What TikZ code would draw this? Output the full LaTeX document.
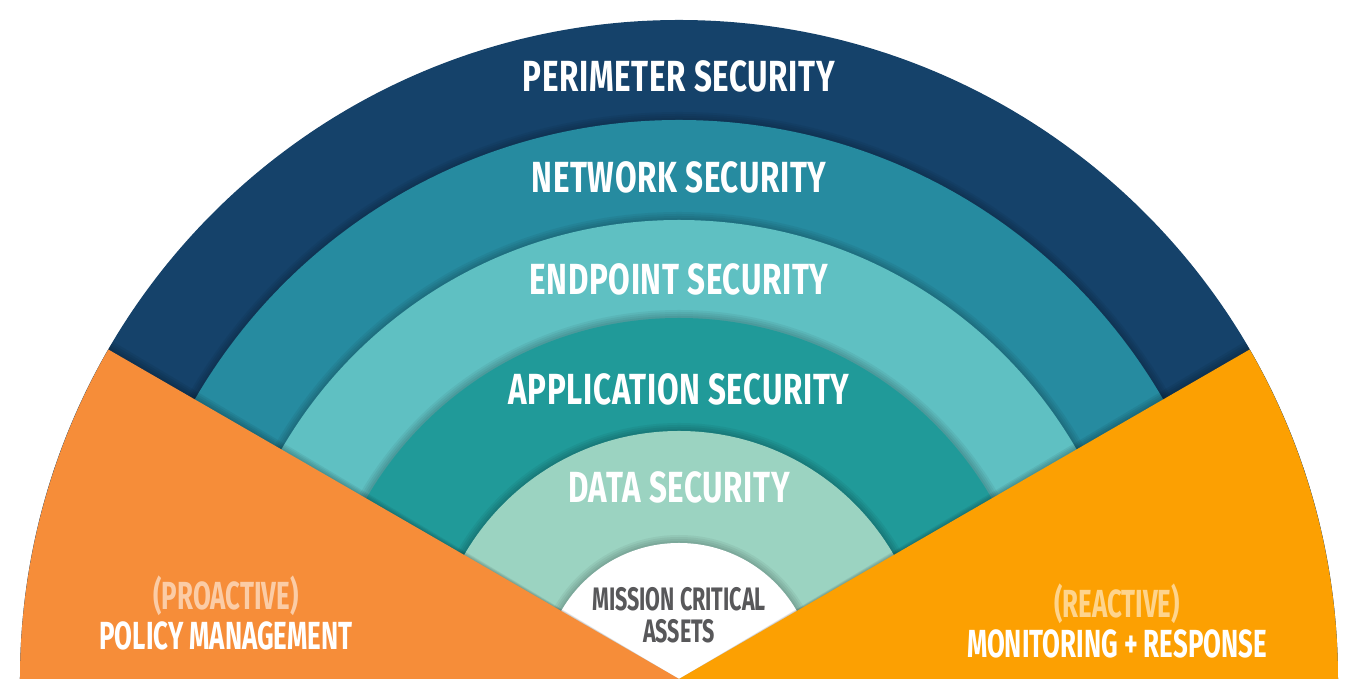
\documentclass[tikz,border=0pt]{standalone}
\usepackage{fontspec}
\newfontfamily\labelfont{Fira Sans}[FakeStretch=0.66]
\newfontfamily\ringfont{Fira Sans}[FakeStretch=0.72, LetterSpace=1.5]
\definecolor{perimeter}{RGB}{21,66,106}
\definecolor{network}{RGB}{38,139,160}
\definecolor{endpoint}{RGB}{95,192,194}
\definecolor{application}{RGB}{32,154,153}
\definecolor{data}{RGB}{155,211,193}
\definecolor{proactive}{RGB}{246,141,57}
\definecolor{reactive}{RGB}{252,160,2}
\definecolor{asset}{RGB}{88,88,90}
\colorlet{proactive-lighter}{proactive!45}
\colorlet{reactive-lighter}{reactive!45}

\begin{document}
\begin{tikzpicture}[ringlabel/.style={text=white, anchor=base, font=\ringfont\bfseries\fontsize{24.8}{26}\selectfont},
	sidelabel/.style={text=white, align=center, anchor=base, font=\labelfont\bfseries\fontsize{22.3}{22.8}\selectfont}]

    \useasboundingbox (-13.58,-0.08) rectangle (13.46,13.58);

    \fill[perimeter] (13.18,0) arc[start angle=0, end angle=180, radius=13.18] -- cycle;
    \node[ringlabel] (S1) at (0,11.74) {PERIMETER SECURITY};

				\foreach \n/\r/\c/\y/\t in {2/11.18/network/9.72/NETWORK SECURITY, 3/9.18/endpoint/7.68/ENDPOINT SECURITY, 4/7.22/application/5.48/APPLICATION SECURITY, 5/4.96/data/3.52/DATA SECURITY}{
					\foreach \s in {1,...,4}
					\fill[black, opacity=0.05] (\r+0.04*\s,0) arc[start angle=0, end angle=180, radius=\r+0.04*\s] -- cycle;
					\fill[\c] (\r,0) arc[start angle=0, end angle=180, radius=\r] -- cycle;
					\node[ringlabel] (S\n) at (0,\y) {\t};
			}

				\foreach \s in {1,...,4}
				\fill[black, opacity=0.05] (2.72+0.04*\s,0) arc[start angle=0, end angle=180, radius=2.72+0.04*\s] -- cycle;
    \fill[white] (2.72,0) arc[start angle=0, end angle=180, radius=2.72] -- cycle;
    \node[text=asset, align=center, font=\labelfont\bfseries\fontsize{18.5}{18}\selectfont] (A) at (0,1.27) {MISSION CRITICAL\\ASSETS};

				\foreach \a in {0.2,0.4,0.6,0.8}{
					\fill[black, opacity=0.06] (0,0) -- (150-\a:13.18) arc[start angle=150-\a, end angle=180, radius=13.18] -- cycle;
					\fill[black, opacity=0.06] (0,0) -- (30+\a:13.18) arc[start angle=30+\a, end angle=0, radius=13.18] -- cycle;
			}

    \fill[proactive] (0,0) -- (150:13.18) arc[start angle=150, end angle=180, radius=13.18] -- cycle;
    \fill[reactive] (0,0) -- (30:13.18) arc[start angle=30, end angle=0, radius=13.18] -- cycle;

    \node[sidelabel] (P) at (-9.06,0.58) {{\color{proactive-lighter}(PROACTIVE)}\\POLICY MANAGEMENT};
    \node[sidelabel] (R) at (8.76,0.42) {{\color{reactive-lighter}(REACTIVE)}\\MONITORING + RESPONSE};

\end{tikzpicture}
\end{document}
